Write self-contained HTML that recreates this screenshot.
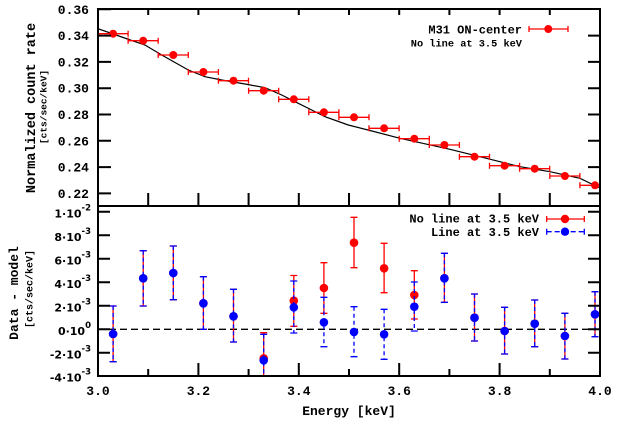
<!DOCTYPE html>
<html><head><meta charset="utf-8"><style>
html,body{margin:0;padding:0;background:#fff;}
svg{display:block;}
.m{font-family:"Liberation Mono",monospace;font-weight:bold;fill:#000;}
.s{font-family:"DejaVu Sans","Liberation Sans",sans-serif;font-weight:bold;fill:#000;}
</style></head><body>
<svg width="623" height="424" viewBox="0 0 623 424" xmlns="http://www.w3.org/2000/svg">
<defs>
<clipPath id="cb"><rect x="98" y="206" width="502" height="170"/></clipPath>
<clipPath id="ct"><rect x="98" y="9" width="502" height="197"/></clipPath>
</defs>
<rect width="623" height="424" fill="#fff"/>

<!-- TOP PANEL -->
<g clip-path="url(#ct)">
<path d="M98,28.7 L128.3,39.3 L145,45 L161.7,55 L188.3,70 L205,76.7 L221.7,80 L245,84 L265,87.7 L281.7,95 L295,101.7 L311.7,110 L325,116.7 L348.3,125 L370,130.5 L400,138.3 L450,149.3 L500,161.7 L520,166.7 L550,171.7 L580,178.3 L600,188" fill="none" stroke="#000" stroke-width="1.2"/>
<g stroke="#f00" stroke-width="1.3" fill="none">
<path d="M98,33.7h30.1M98,30.7v6M128.1,30.7v6"/>
<path d="M128.1,40.7h30.1M128.1,37.7v6M158.2,37.7v6"/>
<path d="M158.2,55h30.1M158.2,52v6M188.3,52v6"/>
<path d="M188.3,72h30.1M188.3,69v6M218.4,69v6"/>
<path d="M218.4,80.7h30.1M218.4,77.7v6M248.5,77.7v6"/>
<path d="M248.6,90.7h30.1M248.6,87.7v6M278.7,87.7v6"/>
<path d="M278.7,99.3h30.1M278.7,96.3v6M308.8,96.3v6"/>
<path d="M308.8,112.3h30.1M308.8,109.3v6M338.9,109.3v6"/>
<path d="M338.9,117.3h30.1M338.9,114.3v6M369,114.3v6"/>
<path d="M369,128.3h30.1M369,125.3v6M399.1,125.3v6"/>
<path d="M399.2,138.7h30.1M399.2,135.7v6M429.3,135.7v6"/>
<path d="M429.3,145h30.1M429.3,142v6M459.4,142v6"/>
<path d="M459.4,156.7h30.1M459.4,153.7v6M489.5,153.7v6"/>
<path d="M489.5,165.7h30.1M489.5,162.7v6M519.6,162.7v6"/>
<path d="M519.6,168.7h30.1M519.6,165.7v6M549.7,165.7v6"/>
<path d="M549.8,176h30.1M549.8,173v6M579.9,173v6"/>
<path d="M579.9,185.3h30.1M579.9,182.3v6"/>
</g>
<g fill="#f00">
<circle cx="113.1" cy="33.7" r="4"/><circle cx="143.2" cy="40.7" r="4"/><circle cx="173.3" cy="55" r="4"/>
<circle cx="203.4" cy="72" r="4"/><circle cx="233.5" cy="80.7" r="4"/><circle cx="263.7" cy="90.7" r="4"/>
<circle cx="293.8" cy="99.3" r="4"/><circle cx="323.9" cy="112.3" r="4"/><circle cx="354" cy="117.3" r="4"/>
<circle cx="384.1" cy="128.3" r="4"/><circle cx="414.3" cy="138.7" r="4"/><circle cx="444.4" cy="145" r="4"/>
<circle cx="474.5" cy="156.7" r="4"/><circle cx="504.6" cy="165.7" r="4"/><circle cx="534.7" cy="168.7" r="4"/>
<circle cx="564.9" cy="176" r="4"/><circle cx="595" cy="185.3" r="4"/>
</g>
</g>
<!-- top legend -->
<text class="m" x="522" y="33.3" font-size="12" text-anchor="end">M31 ON-center</text>
<text class="m" x="522" y="46.7" font-size="10.3" text-anchor="end">No line at 3.5 keV</text>
<g stroke="#f00" stroke-width="1.3"><path d="M529,29h39M529,26v6M568,26v6"/></g>
<circle cx="548.3" cy="29" r="4" fill="#f00"/>

<!-- top ticks -->
<g stroke="#000" stroke-width="2">
<path d="M98,9.3h13M98,35.6h13M98,61.9h13M98,88.2h13M98,114.5h13M98,140.8h13M98,167.1h13M98,193.4h13"/>
<path d="M600,35.6h-12M600,61.9h-12M600,88.2h-12M600,114.5h-12M600,140.8h-12M600,167.1h-12M600,193.4h-12"/>
<path d="M148.2,9v6M198.4,9v6M248.6,9v6M298.8,9v6M349,9v6M399.2,9v6M449.4,9v6M499.6,9v6M549.8,9v6"/>
<path d="M148.2,206v-13M198.4,206v-13M248.6,206v-13M298.8,206v-13M349,206v-13M399.2,206v-13M449.4,206v-13M499.6,206v-13M549.8,206v-13"/>
</g>
<g class="m" font-size="13" text-anchor="end">
<text x="89" y="14">0.36</text><text x="89" y="40.1">0.34</text><text x="89" y="66.4">0.32</text>
<text x="89" y="92.7">0.30</text><text x="89" y="119">0.28</text><text x="89" y="145.3">0.26</text>
<text x="89" y="171.6">0.24</text><text x="89" y="197.9">0.22</text>
</g>
<text class="m" font-size="13.5" text-anchor="middle" transform="translate(35,108) rotate(-90)">Normalized count rate</text>
<text class="m" font-size="9.5" text-anchor="middle" transform="translate(46.5,107) rotate(-90)">[cts/sec/keV]</text>

<!-- BOTTOM PANEL -->
<path d="M98,329.3H600" stroke="#000" stroke-width="1.3" stroke-dasharray="7,4"/>
<g clip-path="url(#cb)">
<!-- red error bars (solid) -->
<g stroke="#f00" stroke-width="1.3" fill="none">
<path d="M113.1,306v55.7M109.6,306h7M109.6,361.7h7"/>
<path d="M143.2,250.7v55.3M139.7,250.7h7M139.7,306h7"/>
<path d="M173.3,246v53.7M169.8,246h7M169.8,299.7h7"/>
<path d="M203.4,276.7v52.6M199.9,276.7h7M199.9,329.3h7"/>
<path d="M233.5,289.3v52.7M230,289.3h7M230,342h7"/>
<path d="M263.7,332.7v50M260.2,332.7h7"/>
<path d="M293.8,275.5v50.8M290.3,275.5h7M290.3,326.3h7"/>
<path d="M323.9,262.7v50.6M320.4,262.7h7M320.4,313.3h7"/>
<path d="M354,217.3v50.4M350.5,217.3h7M350.5,267.7h7"/>
<path d="M384.1,243.3v49.4M380.6,243.3h7M380.6,292.7h7"/>
<path d="M414.3,270.7v48.3M410.8,270.7h7M410.8,319h7"/>
<path d="M444.4,253.3v49M440.9,253.3h7M440.9,302.3h7"/>
<path d="M474.5,294v47M471,294h7M471,341h7"/>
<path d="M504.6,307.3v46.7M501.1,307.3h7M501.1,354h7"/>
<path d="M534.7,300v46.7M531.2,300h7M531.2,346.7h7"/>
<path d="M564.9,313.3v45.7M561.4,313.3h7M561.4,359h7"/>
<path d="M595,291.7v45M591.5,291.7h7M591.5,336.7h7"/>
</g>
<g fill="#f00">
<circle cx="113.1" cy="334" r="4.3"/><circle cx="143.2" cy="278.3" r="4.3"/><circle cx="173.3" cy="273" r="4.3"/>
<circle cx="203.4" cy="303.3" r="4.3"/><circle cx="233.5" cy="316.3" r="4.3"/><circle cx="263.7" cy="358.3" r="4.3"/>
<circle cx="293.8" cy="300.7" r="4.3"/><circle cx="323.9" cy="288" r="4.3"/><circle cx="354" cy="242.7" r="4.3"/>
<circle cx="384.1" cy="268.3" r="4.3"/><circle cx="414.3" cy="295" r="4.3"/><circle cx="444.4" cy="278.3" r="4.3"/>
<circle cx="474.5" cy="317.7" r="4.3"/><circle cx="504.6" cy="331" r="4.3"/><circle cx="534.7" cy="323.7" r="4.3"/>
<circle cx="564.9" cy="336" r="4.3"/><circle cx="595" cy="314.3" r="4.3"/>
</g>
<!-- blue error bars (dashed) -->
<g stroke="#00f" stroke-width="1.3" fill="none">
<g stroke-dasharray="4,3">
<path d="M113.1,306v55.7"/><path d="M143.2,250.7v55.3"/><path d="M173.3,246v53.7"/>
<path d="M203.4,276.7v52.6"/><path d="M233.5,289.3v52.7"/><path d="M263.7,334.3v50"/>
<path d="M293.8,281v52"/><path d="M323.9,297.3v49.4"/><path d="M354,306.7v50"/>
<path d="M384.1,309.3v50"/><path d="M414.3,282v49"/><path d="M444.4,253.3v49"/>
<path d="M474.5,294v47"/><path d="M504.6,307.3v46.7"/><path d="M534.7,300v46.7"/>
<path d="M564.9,313.3v45.7"/><path d="M595,291.7v45"/>
</g>
<path d="M109.6,306h7M109.6,361.7h7M139.7,250.7h7M139.7,306h7M169.8,246h7M169.8,299.7h7M199.9,276.7h7M199.9,329.3h7M230,289.3h7M230,342h7M260.2,334.3h7M290.3,281h7M290.3,333h7M320.4,297.3h7M320.4,346.7h7M350.5,306.7h7M350.5,356.7h7M380.6,309.3h7M380.6,359.3h7M410.8,282h7M410.8,331h7M440.9,253.3h7M440.9,302.3h7M471,294h7M471,341h7M501.1,307.3h7M501.1,354h7M531.2,300h7M531.2,346.7h7M561.4,313.3h7M561.4,359h7M591.5,291.7h7M591.5,336.7h7"/>
</g>
<g fill="#00f">
<circle cx="113.1" cy="334" r="4.3"/><circle cx="143.2" cy="278.3" r="4.3"/><circle cx="173.3" cy="273" r="4.3"/>
<circle cx="203.4" cy="303.3" r="4.3"/><circle cx="233.5" cy="316.3" r="4.3"/><circle cx="263.7" cy="360.3" r="4.3"/>
<circle cx="293.8" cy="307.3" r="4.3"/><circle cx="323.9" cy="322.3" r="4.3"/><circle cx="354" cy="332" r="4.3"/>
<circle cx="384.1" cy="334.3" r="4.3"/><circle cx="414.3" cy="306.7" r="4.3"/><circle cx="444.4" cy="278.3" r="4.3"/>
<circle cx="474.5" cy="317.7" r="4.3"/><circle cx="504.6" cy="331" r="4.3"/><circle cx="534.7" cy="323.7" r="4.3"/>
<circle cx="564.9" cy="336" r="4.3"/><circle cx="595" cy="314.3" r="4.3"/>
</g>
</g>
<!-- bottom legend -->
<g class="m" font-size="12" text-anchor="end">
<text x="539" y="222.5">No line at 3.5 keV</text>
<text x="539" y="235.8">Line at 3.5 keV</text>
</g>
<g stroke="#f00" stroke-width="1.3"><path d="M546.7,219h37.6M546.7,216v6M584.3,216v6"/></g>
<circle cx="565" cy="219" r="4.2" fill="#f00"/>
<g stroke="#00f" stroke-width="1.3"><path d="M546.7,231.7h37.6" stroke-dasharray="5,3"/><path d="M546.7,228.7v6M584.3,228.7v6"/></g>
<circle cx="565" cy="231.7" r="4.2" fill="#00f"/>

<!-- bottom ticks -->
<g stroke="#000" stroke-width="2">
<path d="M98,211.8h12M98,235.3h12M98,258.8h12M98,282.3h12M98,305.8h12M98,329.3h12M98,352.8h12"/>
<path d="M600,211.8h-12M600,235.3h-12M600,258.8h-12M600,282.3h-12M600,305.8h-12M600,329.3h-12M600,352.8h-12"/>
<path d="M198.4,376v-13M298.8,376v-13M399.2,376v-13M499.6,376v-13"/>
<path d="M148.2,376v-7M248.6,376v-7M349,376v-7M449.4,376v-7M549.8,376v-7"/>
</g>
<g class="s" font-size="11" text-anchor="end">
<text x="91" y="217.3">1·10<tspan font-size="8.5" dy="-7">-2</tspan></text>
<text x="91" y="240.8">8·10<tspan font-size="8.5" dy="-7">-3</tspan></text>
<text x="91" y="264.3">6·10<tspan font-size="8.5" dy="-7">-3</tspan></text>
<text x="91" y="287.8">4·10<tspan font-size="8.5" dy="-7">-3</tspan></text>
<text x="91" y="311.3">2·10<tspan font-size="8.5" dy="-7">-3</tspan></text>
<text x="91" y="334.8">0·10<tspan font-size="8.5" dy="-7">0</tspan></text>
<text x="91" y="358.3">-2·10<tspan font-size="8.5" dy="-7">-3</tspan></text>
<text x="91" y="381.3">-4·10<tspan font-size="8.5" dy="-7">-3</tspan></text>
</g>
<text class="m" font-size="13" text-anchor="middle" transform="translate(18,293) rotate(-90)">Data - model</text>
<text class="m" font-size="10" text-anchor="middle" transform="translate(32.5,289) rotate(-90)">[cts/sec/keV]</text>

<g class="m" font-size="13" text-anchor="middle">
<text x="98" y="395">3.0</text><text x="198.4" y="395">3.2</text><text x="298.8" y="395">3.4</text>
<text x="399.2" y="395">3.6</text><text x="499.6" y="395">3.8</text><text x="600" y="395">4.0</text>
<text x="349" y="415">Energy [keV]</text>
</g>

<!-- frames -->
<rect x="98" y="9" width="502" height="367" fill="none" stroke="#000" stroke-width="2"/>
<path d="M98,206H600" stroke="#000" stroke-width="2"/>
</svg>
</body></html>
